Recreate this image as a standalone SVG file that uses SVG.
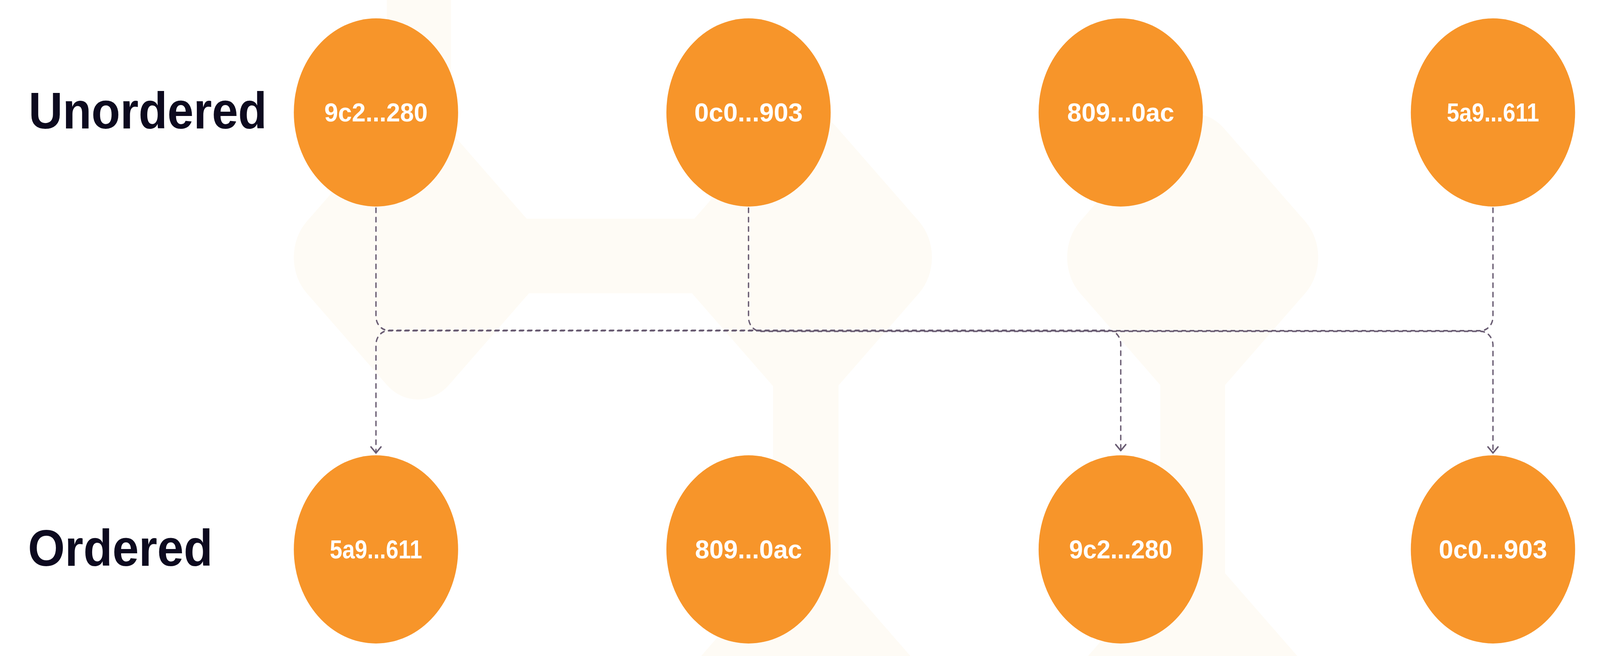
<svg xmlns="http://www.w3.org/2000/svg" width="4694" height="1680" viewBox="0 0 4694 1680" preserveAspectRatio="none">
  <style>
    svg { width: 100vw; height: 100vh; overflow: hidden; }
    .wm { fill: #FEFBF5; }
    .node circle { fill: #F7952A; }
    .node text { fill: #FFFFFF; font-family: "Liberation Sans", Arial, sans-serif; font-weight: bold; font-size: 67px; text-anchor: middle; }
    .row-label { fill: #0D0A1F; font-family: "Liberation Sans", Arial, sans-serif; font-weight: bold; font-size: 132px; }
    .conn { fill: none; stroke: #6A5D73; stroke-width: 4; stroke-dasharray: 11 13; stroke-linecap: round; }
  </style>
  <defs>
    <marker id="arrow" markerUnits="userSpaceOnUse" viewBox="-20 -20 40 40" markerWidth="40" markerHeight="40" refX="0" refY="0" orient="auto">
      <path d="M-15.5,-14.8 L0,0 L-15.5,14.8" fill="none" stroke="#6A5D73" stroke-width="4" stroke-linecap="round" stroke-linejoin="round"/>
    </marker>
  </defs>
  <rect width="4694" height="1680" fill="#FFFFFF"/>
  <g id="watermark" class="wm">
    <rect x="1135" y="0" width="188" height="659"/>
    <rect x="1226" y="560" width="1137" height="191"/>
    <rect x="2268" y="659" width="192" height="1021"/>
    <rect x="3404" y="659" width="190" height="1021"/>
    <rect x="-295.5" y="-295.5" width="591" height="591" rx="130" transform="translate(1226,659) rotate(45)"/>
    <rect x="-300.5" y="-300.5" width="601" height="601" rx="130" transform="translate(2363,659) rotate(45)"/>
    <rect x="-298.5" y="-298.5" width="597" height="597" rx="130" transform="translate(3499,659) rotate(45)"/>
    <path d="M2364,1373 L2671,1680 L2057,1680 Z"/>
    <path d="M3499,1373 L3806,1680 L3192,1680 Z"/>
  </g>
  <text id="label-unordered" class="row-label" x="84" y="329" textLength="699" lengthAdjust="spacingAndGlyphs">Unordered</text>
  <text id="label-ordered" class="row-label" x="82" y="1449" textLength="542" lengthAdjust="spacingAndGlyphs">Ordered</text>
  <g id="connectors">
    <path class="conn" d="M1103,533 V810 A36,36 0 0 0 1139,846 H3252 A36,36 0 0 1 3288,882 V1154" marker-end="url(#arrow)"/>
    <path class="conn" d="M2196,533 V812 A36,36 0 0 0 2232,848.5 H4344 A36,36 0 0 1 4380,884 V1160" marker-end="url(#arrow)"/>
    <path class="conn" d="M4380,533 V811 A36,36 0 0 1 4344,847 H1139 A36,36 0 0 0 1103,883 V1160" marker-end="url(#arrow)"/>
  </g>
  <g id="node-u1" class="node"><circle cx="1103" cy="288" r="241"/><text x="1103" y="311" textLength="303" lengthAdjust="spacingAndGlyphs">9c2...280</text></g>
  <g id="node-u2" class="node"><circle cx="2196" cy="288" r="241"/><text x="2196" y="311" textLength="318" lengthAdjust="spacingAndGlyphs">0c0...903</text></g>
  <g id="node-u3" class="node"><circle cx="3288" cy="288" r="241"/><text x="3288" y="311" textLength="314" lengthAdjust="spacingAndGlyphs">809...0ac</text></g>
  <g id="node-u4" class="node"><circle cx="4380" cy="288" r="241"/><text x="4380" y="311" textLength="271" lengthAdjust="spacingAndGlyphs">5a9...611</text></g>
  <g id="node-o1" class="node"><circle cx="1103" cy="1407" r="241"/><text x="1103" y="1430" textLength="271" lengthAdjust="spacingAndGlyphs">5a9...611</text></g>
  <g id="node-o2" class="node"><circle cx="2196" cy="1407" r="241"/><text x="2196" y="1430" textLength="314" lengthAdjust="spacingAndGlyphs">809...0ac</text></g>
  <g id="node-o3" class="node"><circle cx="3288" cy="1407" r="241"/><text x="3288" y="1430" textLength="303" lengthAdjust="spacingAndGlyphs">9c2...280</text></g>
  <g id="node-o4" class="node"><circle cx="4380" cy="1407" r="241"/><text x="4380" y="1430" textLength="318" lengthAdjust="spacingAndGlyphs">0c0...903</text></g>
</svg>
